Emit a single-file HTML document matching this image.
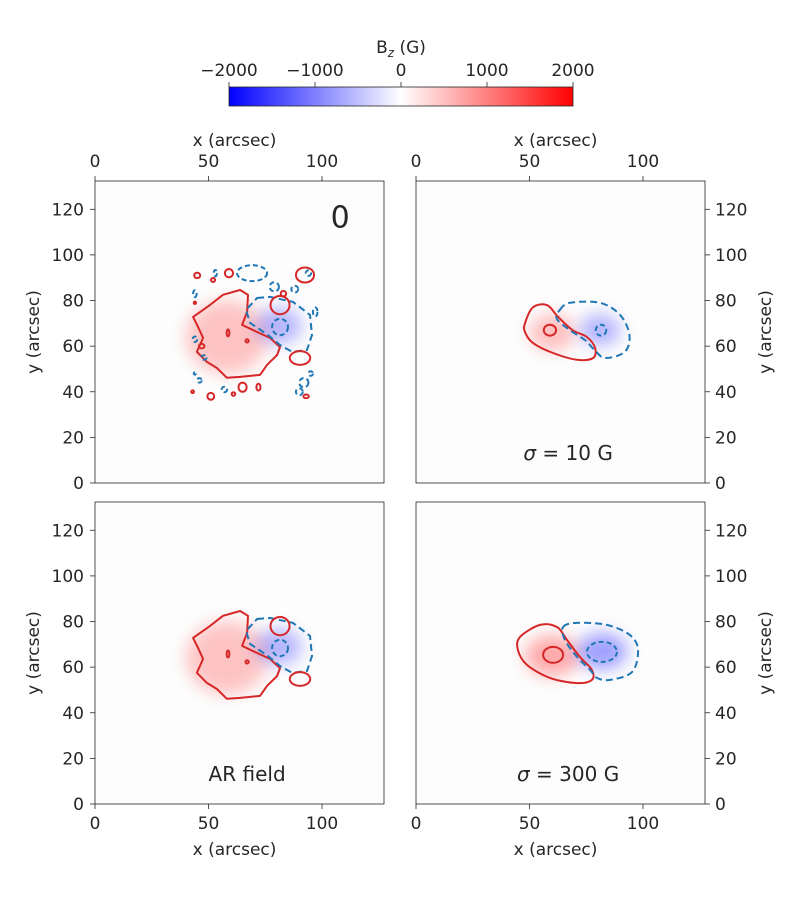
<!DOCTYPE html>
<html><head><meta charset="utf-8">
<style>
body{margin:0;background:#fff;}
svg text{font-family:"DejaVu Sans","Liberation Sans",sans-serif;fill:#262626;}
</style></head>
<body>
<svg id="fig" width="800" height="900" viewBox="0 0 800 900" xmlns="http://www.w3.org/2000/svg">
<defs>
<linearGradient id="cmap" x1="0" x2="1" y1="0" y2="0">
<stop offset="0" stop-color="#0000ff"/><stop offset="0.5" stop-color="#ffffff"/><stop offset="1" stop-color="#ff0000"/>
</linearGradient>
<filter id="blur" x="-50%" y="-50%" width="200%" height="200%"><feGaussianBlur stdDeviation="8"/></filter>
</defs>
<g id="cbar">
<rect x="229" y="87" width="344" height="19" fill="url(#cmap)" stroke="#262626" stroke-width="0.8"/>
<text x="401" y="53" text-anchor="middle" font-size="17">B<tspan font-style="italic" font-size="12" dy="4">z</tspan><tspan dy="-4"> (G)</tspan></text>
</g>
<g id="panels"></g>
</svg>
<script>
const cbTicks=[-2000,-1000,0,1000,2000];
const xTicks=[0,50,100];
const yTicks=[0,20,40,60,80,100,120];
const xMax=127.3, yMax=132.4;
// contour polygons (data coords, arcsec)
const arMainRed=[[43.2,72.8],[50.7,78.1],[56.4,82.5],[63.9,84.6],[67.4,82.5],[67,75],[64.8,69.3],[71.4,66.2],[77.1,63.6],[81.5,59.6],[80.2,56.1],[75.8,51.8],[72.7,47.4],[63.9,46.5],[58.1,46.1],[53.7,50.4],[49.3,53.1],[44.9,57.5],[47.6,63.6],[45.4,68.4]];
const arMainBlue=[[71.4,81.1],[77.1,81.6],[87.2,79.4],[94.7,73.7],[95.6,64.9],[93.4,58.3],[86.8,57.5],[81.5,60.5],[76.2,64.9],[68.3,70.2],[66.5,75.9]];
const s10Red=[[48,70],[51.5,77],[57.7,78],[62.6,72.8],[69,67],[75.3,64],[78.9,59.2],[78,54.8],[70.9,54],[60.4,57],[51.5,61.4],[48,66.2]];
const s10Blue=[[63.4,75.9],[67.8,79],[81,79],[89.9,73.7],[94,65],[92,57.5],[83.3,54.8],[78.5,58.5],[74.4,62.7],[67.8,67],[62,72]];
const s300Red=[[45.8,73.2],[54.6,78.5],[62.1,77.6],[66.5,71.9],[72.2,64.5],[77.5,58.8],[77.5,54.4],[70.9,53],[59,55.3],[48.9,61],[44.9,67.5]];
const s300Blue=[[64.8,77.6],[70.9,79.4],[84.1,78.5],[94.3,74],[97.8,67.5],[95.2,57.9],[85.5,54.4],[79.7,55.3],[76.7,58.8],[70.9,64.5],[65.6,71.9]];
// small loops: [x, y, rx, ry]
const arSmallRed=[[81.5,78,4.2,4],[90.3,54.8,4.5,3],[58.6,65.8,0.6,1.5],[67,62.3,0.7,0.7]];
const arSmallBlue=[[81.5,68.4,3.5,3.6]];
const rawSmallRed=[[92.5,91.2,4,3.3],[59,92,1.8,1.8],[45,91,1.3,1.2],[52,89,0.9,0.9],[83,83,1.2,1.2],[47,60,1.2,1],[43,40,0.6,0.6],[51,38,1.5,1.5],[65,42,1.8,2],[72,42,0.9,1.5],[61,39,0.8,0.8],[93,38,1.2,0.8],[44,79,0.5,0.5]];
const rawSmallBlue=[[69.2,92,6.6,3.5],[79,86,2,2],[88,85,1.5,1.5],[53,92,0.7,1.4],[44,83,0.8,1.5],[44,63,1,1.2],[48,55,1.2,1],[46,45,1,1],[57,41,1.2,1.2],[92,44,2,2],[95,48,1,1],[90,40,1.5,1.5],[97,75,1,2],[44,48,0.5,0.5],[94,92,1.2,1.2]];
const panels=[
 {name:'raw',x0:95,y0:181,label:'0',labelX:108,labelY:112,big:true,xAxis:'top',yAxis:'left',smooth:false,
  red:arMainRed,blue:arMainBlue,sr:arSmallRed.concat(rawSmallRed),sb:arSmallBlue.concat(rawSmallBlue),
  shade:[[58,64,18,16,0.28,'r'],[81,69,10,8,0.35,'b']]},
 {name:'sigma-10',x0:416,y0:181,label:'σ = 10 G',labelX:67,labelY:10,xAxis:'top',yAxis:'right',smooth:true,
  red:s10Red,blue:s10Blue,sr:[[59,67,2.7,2.4]],sb:[],sbDash:[[81.5,67,2.3,2.4]],shade:[[60,66,10,8,0.3,'r'],[81,67,9,7,0.35,'b']]},
 {name:'ar-field',x0:95,y0:502,label:'AR field',labelX:67,labelY:10,xAxis:'bottom',yAxis:'left',smooth:false,
  red:arMainRed,blue:arMainBlue,sr:arSmallRed,sb:arSmallBlue,shade:[[58,64,18,16,0.28,'r'],[81,69,10,8,0.35,'b']]},
 {name:'sigma-300',x0:416,y0:502,label:'σ = 300 G',labelX:67,labelY:10,xAxis:'bottom',yAxis:'right',smooth:true,
  red:s300Red,blue:s300Blue,sr:[[60.4,65.4,4.4,3.5]],sb:[],sbDash:[[81.9,66.7,6.6,4.4]],shade:[[60,65,12,9,0.4,'r'],[82,67,11,8,0.45,'b']]}
];
const NS='http://www.w3.org/2000/svg';
const W=289,H=302;
function mk(tag,attrs,parent){const e=document.createElementNS(NS,tag);for(const k in attrs)e.setAttribute(k,attrs[k]);parent.appendChild(e);return e;}
function smoothPath(P){
 const n=P.length;let d='M'+P[0][0].toFixed(1)+','+P[0][1].toFixed(1);
 for(let i=0;i<n;i++){
  const p0=P[(i-1+n)%n],p1=P[i],p2=P[(i+1)%n],p3=P[(i+2)%n];
  const c1=[p1[0]+(p2[0]-p0[0])/6,p1[1]+(p2[1]-p0[1])/6];
  const c2=[p2[0]-(p3[0]-p1[0])/6,p2[1]-(p3[1]-p1[1])/6];
  d+=' C'+c1[0].toFixed(1)+','+c1[1].toFixed(1)+' '+c2[0].toFixed(1)+','+c2[1].toFixed(1)+' '+p2[0].toFixed(1)+','+p2[1].toFixed(1);
 }
 return d+'Z';
}
const cb=document.getElementById('cbar');
function cbX(v){return 229+(v+2000)/4000*344;}
cbTicks.forEach(v=>{
 const t=mk('line',{x1:cbX(v),x2:cbX(v),y1:87,y2:82,stroke:'#262626','stroke-width':0.8},cb);
 
 
 const l=mk('text',{x:cbX(v),y:76,'text-anchor':'middle','font-size':17},cb);
 l.textContent=v<0?'\u2212'+Math.abs(v):String(v);
 
 
});
const root=document.getElementById('panels');
panels.forEach(p=>{
 const X=v=>p.x0+v/xMax*W, Y=v=>p.y0+H-v/yMax*H;
 const g=mk('g',{},root);
 
 
 mk('rect',{x:p.x0,y:p.y0,width:W,height:H,fill:'#fdfdfd'},g);
 const cp='clip-'+p.name;
 const c=mk('clipPath',{id:cp},g);mk('rect',{x:p.x0,y:p.y0,width:W,height:H},c);
 const inner=mk('g',{'clip-path':'url(#'+cp+')'},g);
 p.shade.forEach(s=>{
  const e=mk('ellipse',{cx:X(s[0]),cy:Y(s[1]),rx:s[2]/xMax*W,ry:s[3]/yMax*H,fill:s[5]=='r'?'#ff3030':'#3030ff',opacity:s[4],filter:'url(#blur)'},inner);
  
  
 });
 const toPx=a=>a.map(q=>[X(q[0]),Y(q[1])]);
 const shape=(a)=>p.smooth?smoothPath(toPx(a)):'M'+toPx(a).map(q=>q[0].toFixed(1)+','+q[1].toFixed(1)).join(' L')+'Z';
 const rp=mk('path',{d:shape(p.red),fill:'none',stroke:'#d62728','stroke-width':2,'stroke-linejoin':'round'},inner);
 
 
 const bp=mk('path',{d:shape(p.blue),fill:'none',stroke:'#1f77b4','stroke-width':2,'stroke-dasharray':'7,4'},inner);
 
 
 (p.sr||[]).forEach(s=>{
  const e=mk('ellipse',{cx:X(s[0]),cy:Y(s[1]),rx:s[2]/xMax*W,ry:s[3]/yMax*H,fill:'none',stroke:'#d62728','stroke-width':2},inner);
  
  
 });
 (p.sb||[]).concat(p.sbDash||[]).forEach(s=>{
  const e=mk('ellipse',{cx:X(s[0]),cy:Y(s[1]),rx:s[2]/xMax*W,ry:s[3]/yMax*H,fill:'none',stroke:'#1f77b4','stroke-width':2,'stroke-dasharray':'5,3'},inner);
  
  
 });
 const fr=mk('rect',{x:p.x0,y:p.y0,width:W,height:H,fill:'none',stroke:'#262626','stroke-width':0.8},g);
 
 
 const top=p.xAxis=='top', yb=top?p.y0:p.y0+H, dir=top?-1:1;
 xTicks.forEach(v=>{
  const t=mk('line',{x1:X(v),x2:X(v),y1:yb,y2:yb+dir*5,stroke:'#262626','stroke-width':0.8},g);
  
  
  const l=mk('text',{x:X(v),y:top?yb-14:yb+25,'text-anchor':'middle','font-size':17},g);
  l.textContent=v;
  
  
 });
 const xt=mk('text',{x:p.x0+W/2-5,y:top?p.y0-35:p.y0+H+51,'text-anchor':'middle','font-size':17},g);
 xt.textContent='x (arcsec)';
 
 
 const left=p.yAxis=='left', xb=left?p.x0:p.x0+W, dx=left?-1:1;
 yTicks.forEach(v=>{
  const t=mk('line',{x1:xb,x2:xb+dx*5,y1:Y(v),y2:Y(v),stroke:'#262626','stroke-width':0.8},g);
  
  
  const l=mk('text',{x:left?xb-11:xb+10,y:Y(v)+6,'text-anchor':left?'end':'start','font-size':17},g);
  l.textContent=v;
  
  
 });
 const ytx=left?p.x0-56:p.x0+W+66, yty=p.y0+H/2;
 const yt=mk('text',{x:ytx,y:yty,'text-anchor':'middle','font-size':17,transform:'rotate(-90 '+ytx+' '+yty+')'},g);
 yt.textContent='y (arcsec)';
 
 
 const lb=mk('text',{x:X(p.labelX),y:Y(p.labelY),'text-anchor':'middle','font-size':p.big?30:20},g);
 if(p.label.startsWith('σ')){const s=mk('tspan',{'font-style':'italic'},lb);s.textContent='σ';lb.appendChild(document.createTextNode(p.label.slice(1)));}
 else lb.textContent=p.label;
 
 
});
</script>
</body></html>
